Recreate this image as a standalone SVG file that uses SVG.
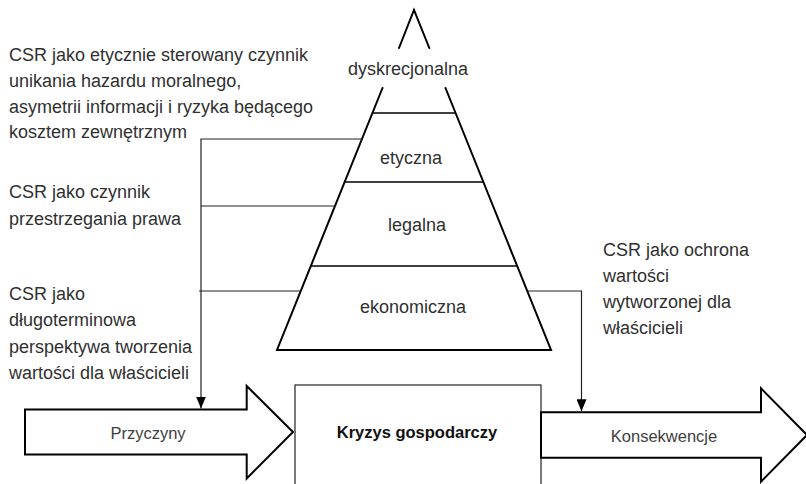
<svg xmlns="http://www.w3.org/2000/svg" width="806" height="484" viewBox="0 0 806 484">
  <defs>
    <marker id="ah" viewBox="0 0 12 10" refX="12" refY="5" markerWidth="12" markerHeight="10" markerUnits="userSpaceOnUse" orient="auto">
      <path d="M0,0 L12,5 L0,10 Z" fill="#000"/>
    </marker>
    <style>
      text { font-family: "Liberation Sans", Arial, sans-serif; fill: #303030; }
      .lbl { font-size: 18px; }
      .mid { text-anchor: middle; }
      .arr { font-size: 16.5px; fill: #404040; text-anchor: middle; }
      .bold { font-size: 16.5px; font-weight: bold; fill: #111; text-anchor: middle; }
      .pyr { fill: none; stroke: #000; stroke-width: 2; stroke-linecap: round; }
      .tier { stroke: #000; stroke-width: 1.5; }
      .conn { fill: none; stroke: #222; stroke-width: 1.2; }
      .bigarrow { fill: #fff; stroke: #000; stroke-width: 2; stroke-linejoin: miter; }
    </style>
  </defs>
  <rect width="806" height="484" fill="#fff"/>

  <g id="pyramid">
    <path class="pyr" d="M399,48 L414,10 L429.3,48"/>
    <path class="pyr" d="M382.5,88 L277,350 L551,350 L445.5,88"/>
    <line class="tier" x1="372.5" y1="113" x2="455.5" y2="113"/>
    <line class="tier" x1="344.7" y1="182" x2="483.3" y2="182"/>
    <line class="tier" x1="310.9" y1="266" x2="517.1" y2="266"/>
  </g>
  <g id="level-dyskrecjonalna"><text class="lbl mid" x="408" y="75">dyskrecjonalna</text></g>
  <g id="level-etyczna"><text class="lbl mid" x="411" y="164">etyczna</text></g>
  <g id="level-legalna"><text class="lbl mid" x="417" y="231">legalna</text></g>
  <g id="level-ekonomiczna"><text class="lbl mid" x="413" y="313">ekonomiczna</text></g>

  <g id="note-ethics">
    <text class="lbl" x="9" y="61">CSR jako etycznie sterowany czynnik</text>
    <text class="lbl" x="9" y="87">unikania hazardu moralnego,</text>
    <text class="lbl" x="9" y="112.5">asymetrii informacji i ryzyka będącego</text>
    <text class="lbl" x="9" y="138">kosztem zewnętrznym</text>
  </g>
  <g id="note-law">
    <text class="lbl" x="9" y="198">CSR jako czynnik</text>
    <text class="lbl" x="9" y="225">przestrzegania prawa</text>
  </g>
  <g id="note-longterm">
    <text class="lbl" x="9" y="299.5">CSR jako</text>
    <text class="lbl" x="9" y="326">długoterminowa</text>
    <text class="lbl" x="9" y="352.5">perspektywa tworzenia</text>
    <text class="lbl" x="9" y="378.5">wartości dla właścicieli</text>
  </g>
  <g id="note-protection">
    <text class="lbl" x="603" y="255.5">CSR jako ochrona</text>
    <text class="lbl" x="603" y="281.5">wartości</text>
    <text class="lbl" x="603" y="307.5">wytworzonej dla</text>
    <text class="lbl" x="603" y="334">właścicieli</text>
  </g>

  <g id="arrow-przyczyny">
    <polygon class="bigarrow" points="25,409.5 246.7,409.5 246.7,386 293,432 246.7,478.5 246.7,454.5 25,454.5"/>
    <text class="arr" x="148" y="439">Przyczyny</text>
  </g>
  <g id="box-kryzys">
    <rect x="295" y="385" width="246" height="110" fill="#fff" stroke="#222" stroke-width="1.2"/>
    <text class="bold" x="417" y="438">Kryzys gospodarczy</text>
  </g>
  <g id="arrow-konsekwencje">
    <polygon class="bigarrow" points="541,412.3 761,412.3 761,388.3 807,435 761,481.7 761,457.7 541,457.7"/>
    <text class="arr" x="664" y="442">Konsekwencje</text>
  </g>

  <g id="connectors">
    <polyline class="conn" points="362,139 201,139 201,408.5" marker-end="url(#ah)"/>
    <line class="conn" x1="335" y1="206" x2="201" y2="206"/>
    <line class="conn" x1="300.8" y1="291" x2="199" y2="291"/>
    <polyline class="conn" points="527,291 581.5,291 581.5,411.3" marker-end="url(#ah)"/>
  </g>
</svg>
